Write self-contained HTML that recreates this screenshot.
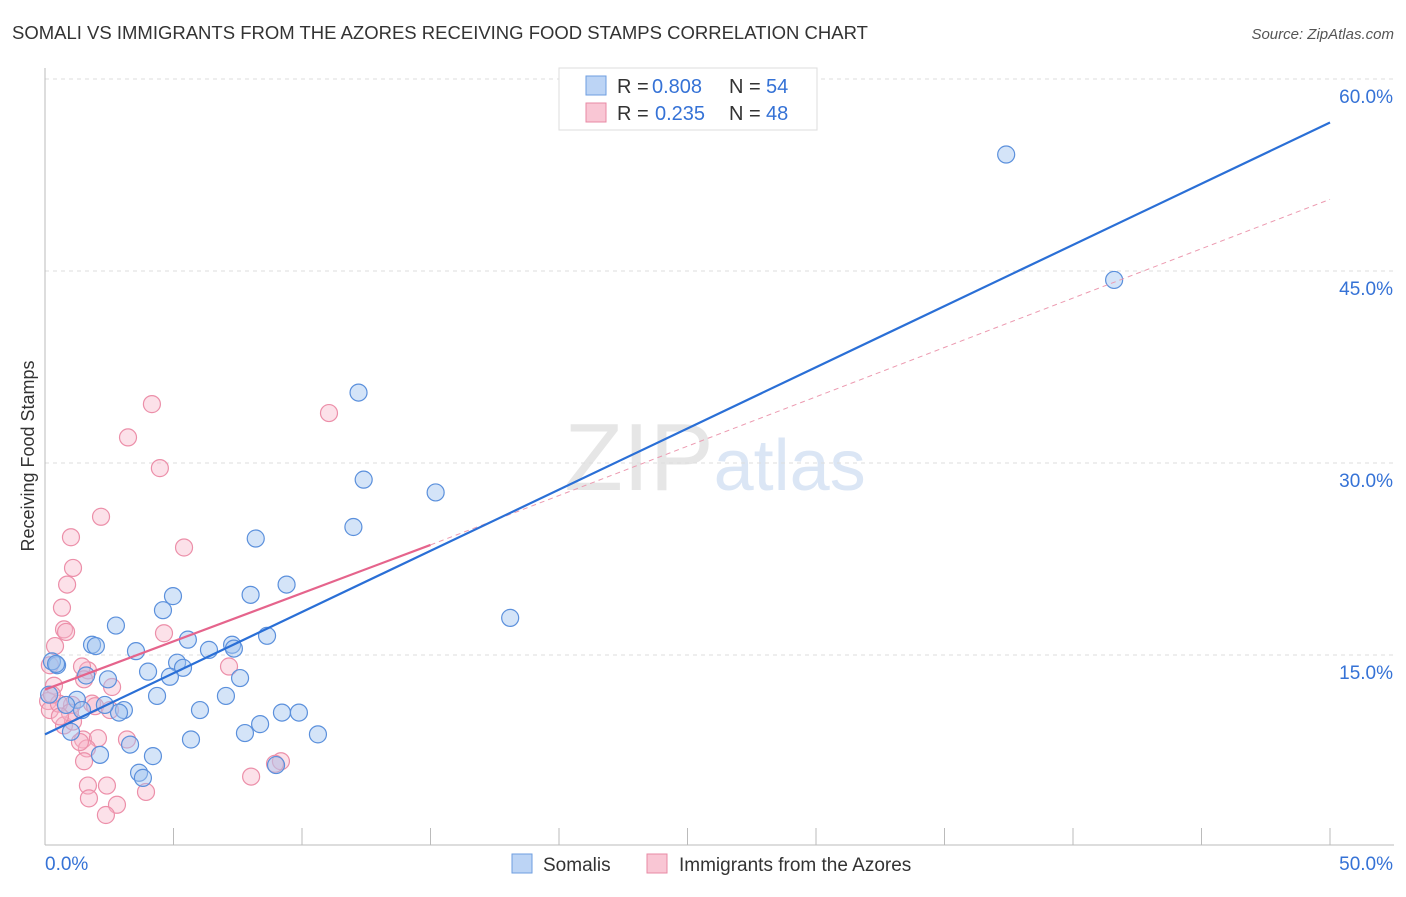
<!DOCTYPE html>
<html><head><meta charset="utf-8">
<style>
body{margin:0;background:#fff;font-family:"Liberation Sans",sans-serif;}
svg text{font-family:"Liberation Sans",sans-serif;}
</style></head>
<body>
<svg id="chart" width="1406" height="892" viewBox="0 0 1406 892" xmlns="http://www.w3.org/2000/svg">
<text x="12" y="39" font-size="18.5" fill="#333">SOMALI VS IMMIGRANTS FROM THE AZORES RECEIVING FOOD STAMPS CORRELATION CHART</text>
<text x="1394" y="39" font-size="15" fill="#555" text-anchor="end" font-style="italic">Source: ZipAtlas.com</text>
<text transform="translate(34,456) rotate(-90)" font-size="18" fill="#333" text-anchor="middle">Receiving Food Stamps</text>
<text x="715" y="490" font-size="96" fill="#e6e6e6" text-anchor="middle" font-family="Liberation Serif">ZIP<tspan fill="#dbe6f5" font-family="Liberation Sans" font-size="72">atlas</tspan></text>
<g id="grid"></g>
<g id="axes"></g>
<g id="pts"></g>
<g id="lines"></g>
<g>
<rect x="559" y="68" width="258" height="62" fill="#fff" stroke="#ddd"/>
<rect x="586" y="76" width="20" height="19" fill="#bcd4f5" stroke="#6e9ee0"/>
<text x="617" y="93" font-size="20" fill="#333">R =</text>
<text x="652" y="93" font-size="20" fill="#3572d6">0.808</text>
<text x="729" y="93" font-size="20" fill="#333">N =</text>
<text x="766" y="93" font-size="20" fill="#3572d6">54</text>
<rect x="586" y="103" width="20" height="19" fill="#f9c6d4" stroke="#e88aa4"/>
<text x="617" y="120" font-size="20" fill="#333">R =</text>
<text x="655" y="120" font-size="20" fill="#3572d6">0.235</text>
<text x="729" y="120" font-size="20" fill="#333">N =</text>
<text x="766" y="120" font-size="20" fill="#3572d6">48</text>
</g>
<g>
<rect x="512" y="854" width="20" height="19" fill="#bcd4f5" stroke="#6e9ee0"/>
<text x="543" y="871" font-size="19" fill="#333">Somalis</text>
<rect x="647" y="854" width="20" height="19" fill="#f9c6d4" stroke="#e88aa4"/>
<text x="679" y="871" font-size="19" fill="#333">Immigrants from the Azores</text>
</g>
</svg>
<script>
const yTicks=[15,30,45,60];
const xTickLabels=["0.0%","50.0%"];
const somaliX=[37.4,41.6,12.2,12.4,15.2,12.0,8.2,18.1,9.4,8.0,4.98,4.59,2.76,1.83,1.98,5.56,3.54,7.28,7.35,8.64,6.38,4.01,5.14,5.37,4.86,7.59,2.45,1.60,0.47,0.27,0.16,4.36,7.04,6.03,3.07,2.88,1.24,1.44,0.82,2.33,9.22,9.88,8.37,7.78,10.62,5.68,1.01,3.31,4.20,2.14,3.66,3.81,8.99,0.43];
const somaliY=[54.1,44.3,35.5,28.7,27.7,25.0,24.1,17.9,20.5,19.7,19.6,18.5,17.3,15.8,15.7,16.2,15.3,15.8,15.5,16.5,15.4,13.7,14.4,14.0,13.3,13.2,13.1,13.4,14.2,14.5,11.9,11.8,11.8,10.7,10.7,10.5,11.5,10.7,11.1,11.1,10.5,10.5,9.6,8.9,8.8,8.4,9.0,8.0,7.1,7.2,5.8,5.4,6.4,14.3];
const azoresX=[4.16,11.05,3.23,4.47,2.18,1.01,5.41,1.09,0.86,0.66,0.74,0.82,4.63,0.39,7.16,0.19,1.67,1.44,1.52,0.35,2.61,0.12,0.19,1.83,1.95,1.05,0.54,2.53,0.74,1.09,1.48,2.06,1.63,1.52,3.19,1.36,1.67,2.41,1.71,2.80,3.93,2.37,8.02,9.18,8.95,0.97,0.58,0.27];
const azoresY=[34.6,33.9,32.0,29.6,25.8,24.2,23.4,21.8,20.5,18.7,17.0,16.8,16.7,15.7,14.1,14.2,13.8,14.1,13.1,12.6,12.5,11.4,10.7,11.2,11.0,11.1,11.2,10.7,9.5,9.8,8.4,8.5,7.7,6.7,8.4,8.2,4.8,4.8,3.8,3.3,4.3,2.5,5.5,6.7,6.5,10.5,10.2,11.9];
const blueFit=[8.8,56.6];
const pinkFit=[12.3,23.6,50.6];
const X=v=>45+v/50*1285, Y=v=>847-v/15*192;
const NS="http://www.w3.org/2000/svg";
function mk(tag,attrs,parent){const e=document.createElementNS(NS,tag);for(const k in attrs)e.setAttribute(k,attrs[k]);document.getElementById(parent).appendChild(e);return e;}
for(const t of yTicks){
 const g=mk('line',{x1:45,x2:1394,y1:Y(t),y2:Y(t),stroke:'#ddd','stroke-dasharray':'4,4'},'grid');
 
 
 const tx=mk('text',{x:1393,y:Y(t)+24,'font-size':19,fill:'#3572d6','text-anchor':'end'},'grid');
 tx.textContent=t.toFixed(1)+'%';
 
 
}
const ax=mk('line',{x1:45,x2:45,y1:68,y2:845,stroke:'#bbb'},'axes');


const bx=mk('line',{x1:45,x2:1394,y1:845,y2:845,stroke:'#bbb'},'axes');


for(let i=1;i<=10;i++){const tk=mk('line',{x1:X(i*5),x2:X(i*5),y1:828,y2:845,stroke:'#bbb'},'axes');
 
 }
xTickLabels.forEach((l,i)=>{const t=mk('text',{x:i?1393:45,y:870,'font-size':19,fill:'#3572d6','text-anchor':i?'end':'start'},'axes');t.textContent=l;
 
 });
azoresX.forEach((x,i)=>{const c=mk('circle',{cx:X(x),cy:Y(azoresY[i]),r:8.5,fill:'rgba(248,180,200,0.4)',stroke:'#ec8fa9','stroke-width':1.2},'pts');
 
 });
somaliX.forEach((x,i)=>{const c=mk('circle',{cx:X(x),cy:Y(somaliY[i]),r:8.5,fill:'rgba(160,195,240,0.45)',stroke:'#5b90dc','stroke-width':1.2},'pts');
 
 });
const pd=mk('line',{x1:X(15),y1:Y(pinkFit[1]),x2:X(50),y2:Y(pinkFit[2]),stroke:'#ec9ab0','stroke-width':1,'stroke-dasharray':'5,4'},'lines');


const bl=mk('line',{x1:X(0),y1:Y(blueFit[0]),x2:X(50),y2:Y(blueFit[1]),stroke:'#2a6fd6','stroke-width':2.2},'lines');


const pl=mk('line',{x1:X(0),y1:Y(pinkFit[0]),x2:X(15),y2:Y(pinkFit[1]),stroke:'#e5648c','stroke-width':2.2},'lines');


</script>
</body></html>
